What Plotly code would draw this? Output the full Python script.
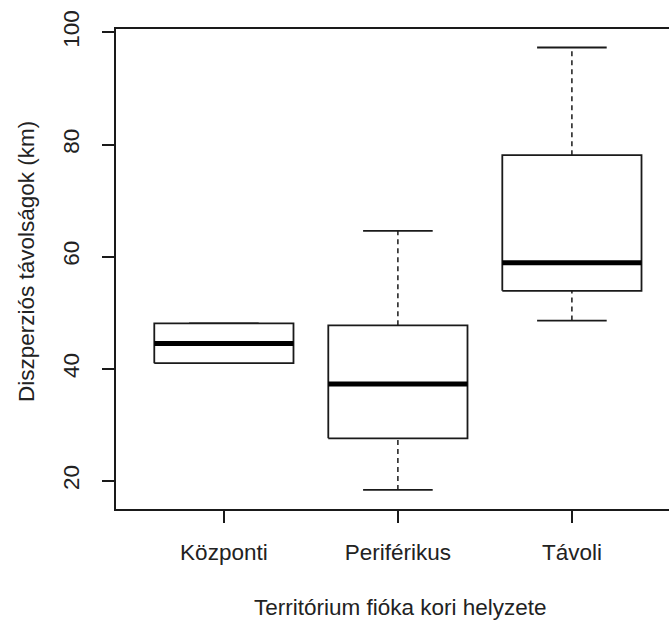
import plotly.graph_objects as go

# Box-plot summary statistics per territory position (km)
categories = ["Központi", "Periférikus", "Távoli"]
lower_whisker = [41.0, 18.4, 48.6]
q1 = [41.0, 27.6, 53.9]
median = [44.5, 37.3, 58.9]
q3 = [48.1, 47.75, 78.1]
upper_whisker = [48.1, 64.6, 97.3]

y_ticks = [20, 40, 60, 80, 100]

BOX_HALF = 0.4      # half of the box width (boxwex 0.8)
CAP_HALF = 0.2      # half of the whisker cap width
LINE = "#1a1a1a"
TEXT = "#222222"
FONT_SIZE = 22.5

fig = go.Figure()

for i, cat in enumerate(categories):
    x = i + 1
    # dashed whiskers
    for lo, hi in ((lower_whisker[i], q1[i]), (q3[i], upper_whisker[i])):
        if hi > lo:
            fig.add_trace(go.Scatter(
                x=[x, x], y=[lo, hi], mode="lines",
                line=dict(color=LINE, width=1.5, dash="5px,4px"),
                hoverinfo="skip", showlegend=False))
    # whisker caps
    for v in (lower_whisker[i], upper_whisker[i]):
        fig.add_trace(go.Scatter(
            x=[x - CAP_HALF, x + CAP_HALF], y=[v, v], mode="lines",
            line=dict(color=LINE, width=1.8),
            hoverinfo="skip", showlegend=False))
    # box outline
    fig.add_trace(go.Scatter(
        x=[x - BOX_HALF, x + BOX_HALF, x + BOX_HALF, x - BOX_HALF, x - BOX_HALF],
        y=[q1[i], q1[i], q3[i], q3[i], q1[i]], mode="lines",
        line=dict(color=LINE, width=1.8),
        fill="toself", fillcolor="white",
        hoverinfo="skip", showlegend=False))
    # thick median bar
    fig.add_trace(go.Scatter(
        x=[x - BOX_HALF, x + BOX_HALF], y=[median[i], median[i]], mode="lines",
        line=dict(color="black", width=5),
        hoverinfo="skip", showlegend=False))

font_family = "Liberation Sans, Arial, sans-serif"

fig.update_layout(
    width=669, height=621,
    margin=dict(l=116, r=0, t=29, b=112),
    paper_bgcolor="white", plot_bgcolor="white",
    font=dict(family=font_family, size=FONT_SIZE, color=TEXT),
    xaxis=dict(
        range=[0.38, 3.558],
        tickmode="array", tickvals=[1, 2, 3], ticktext=categories,
        showgrid=False, zeroline=False,
        showline=True, mirror=True, linecolor=LINE, linewidth=1.8,
        ticks="outside", ticklen=12, tickwidth=1.5, tickcolor=LINE,
        ticklabelstandoff=10,
    ),
    yaxis=dict(
        range=[15.0, 100.6],
        tickmode="array", tickvals=y_ticks,
        ticktext=[str(v) for v in y_ticks],
        tickangle=-90,
        showgrid=False, zeroline=False,
        showline=True, mirror=False, linecolor=LINE, linewidth=1.8,
        ticks="outside", ticklen=12, tickwidth=1.5, tickcolor=LINE,
        ticklabelstandoff=14,
    ),
    annotations=[
        dict(text="Territórium fióka kori helyzete", xref="paper", yref="paper",
             x=(400 - 116) / 553, y=-(607 - 509) / 480,
             xanchor="center", yanchor="middle", showarrow=False,
             font=dict(size=FONT_SIZE, color=TEXT)),
        dict(text="Diszperziós távolságok (km)", xref="paper", yref="paper",
             x=-(116 - 26) / 553, y=(509 - 262) / 480, textangle=-90,
             xanchor="center", yanchor="middle", showarrow=False,
             font=dict(size=FONT_SIZE, color=TEXT)),
    ],
)

fig.write_html("out.html")
